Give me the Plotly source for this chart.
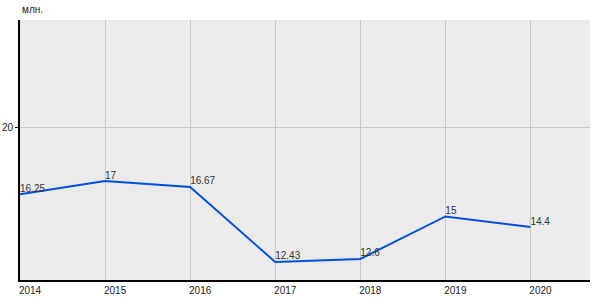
import plotly.graph_objects as go

years = [2014, 2015, 2016, 2017, 2018, 2019, 2020]
values = [16.25, 17, 16.67, 12.43, 12.6, 15, 14.4]
labels = ["16.25", "17", "16.67", "12.43", "12.6", "15", "14.4"]
y_ticks = [20]
unit = "млн."

fig = go.Figure()
fig.add_trace(go.Scatter(
    x=years, y=values, mode="lines+text",
    text=labels, textposition="top right",
    textfont=dict(family="Liberation Sans, Arial", size=10, color="#333333"),
    line=dict(color="#0050e0", width=2),
    hoverinfo="skip", cliponaxis=False,
))

fig.update_layout(
    width=600, height=300,
    margin=dict(l=20, r=10, t=20, b=20),
    paper_bgcolor="white", plot_bgcolor="#ebebeb",
    showlegend=False,
    font=dict(family="Liberation Sans, Arial", size=10, color="#222222"),
    xaxis=dict(
        range=[2014, 2020.7], tickvals=years, ticktext=[str(y) for y in years],
        showgrid=True, gridcolor="#c8c8c8", gridwidth=1,
        showline=True, linecolor="black", linewidth=2,
        ticks="", zeroline=False, ticklabelshift=10, automargin=False,
        tickfont=dict(size=10, color="#222222"),
    ),
    yaxis=dict(
        range=[11.41, 26.1], tickvals=y_ticks,
        showgrid=True, gridcolor="#c8c8c8", gridwidth=1,
        showline=True, linecolor="black", linewidth=2,
        ticks="outside", ticklen=3, tickcolor="black", zeroline=False,
        automargin=False,
        tickfont=dict(size=10, color="#222222"),
    ),
    annotations=[dict(
        text=unit, xref="paper", yref="paper", x=0, y=1,
        xanchor="left", yanchor="bottom", showarrow=False, yshift=3,
        font=dict(size=10, color="#222222"),
    )],
)

fig.write_html("out.html")
